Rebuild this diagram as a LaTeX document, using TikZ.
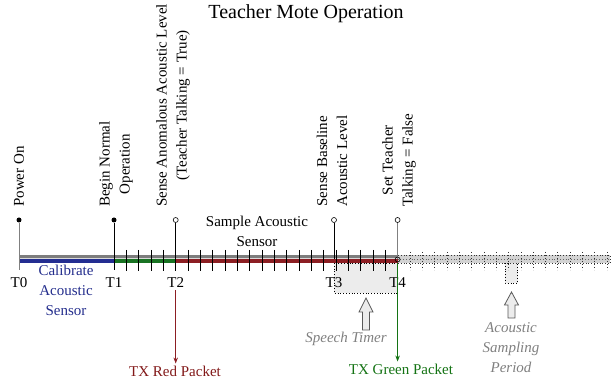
\documentclass[tikz,border=0pt]{standalone}
\usepackage{fontspec}
\setmainfont{Liberation Serif}
\usetikzlibrary{arrows.meta,calc}
\definecolor{barblue}{RGB}{35,45,145}
\definecolor{bargreen}{RGB}{25,115,35}
\definecolor{barred}{RGB}{140,30,35}
\definecolor{txtblue}{RGB}{35,45,140}
\definecolor{txtred}{RGB}{130,25,25}
\definecolor{txtgreen}{RGB}{20,115,20}
\definecolor{bargray}{RGB}{125,125,125}
\tikzset{
  lbl/.style={font=\fontsize{15}{20}\selectfont, inner sep=2pt},
  vlbl/.style={lbl, rotate=90, anchor=west, align=center},
  tlbl/.style={lbl},
  stem/.style={line width=0.9pt},
  tickmark/.style={line width=0.8pt, black},
  dottick/.style={line width=0.8pt, black!80, dash pattern=on 0.8pt off 2.2pt},
  filldot/.style={fill=black, circle, inner sep=0pt, minimum size=5pt},
  opendot/.style={draw=black, fill=white, circle, inner sep=0pt, minimum size=5pt, line width=0.6pt},
  timerbox/.style={fill=gray!15, draw=black, dash pattern=on 0.8pt off 2pt, line width=0.7pt},
  blockarrow/.style={fill=gray!15, draw=black!65, line width=0.8pt},
  note/.style={lbl, font=\fontsize{15}{20}\selectfont\itshape, text=black!50, align=center},
  pkt/.style={line width=0.8pt, -{Stealth[length=6pt,width=4.5pt]}}
}
\begin{document}
\begin{tikzpicture}[x=1pt,y=-1pt]
\useasboundingbox (0,0) rectangle (611,379);
\def\dx{12.33}
% event coordinates on the bar
\coordinate (T0) at (19,259.5);
\coordinate (T1) at (114,259.5);
\coordinate (T2) at (175.7,259.5);
\coordinate (T3) at (334,259.5);
\coordinate (T4) at (397.6,259.5);
\coordinate (End) at (610,259.5);

% title
\node[font=\fontsize{20}{24}\selectfont] (title) at (306,14) {Teacher Mote Operation};

% speech timer box
\draw[timerbox] (334,263) rectangle (397.6,293);
% acoustic sampling period box
\draw[timerbox] (505.3,263) rectangle (517.6,283);

% future (dotted) bar
\draw[fill=gray!35, draw=black!80, dash pattern=on 0.8pt off 2pt, line width=0.6pt] (397.6,255.5) rectangle (610,263.5);
\draw[dash pattern=on 0.8pt off 2pt, line width=0.5pt, black!60] (397.6,259.5) -- (End);
\foreach \k in {1,...,17} \draw[dottick] (397.6+\k*\dx,252) -- (397.6+\k*\dx,270);

% main bar
\draw[line width=8pt, bargray] (T0) -- (T4);
\draw[line width=1pt, white!70!gray] ([yshift=1.3pt]T0) -- ([yshift=1.3pt]T4);
\draw[line width=3.5pt, barblue] ([yshift=-1.5pt]T0) -- ([yshift=-1.5pt]T1);
\draw[line width=3.5pt, bargreen] ([yshift=-1.5pt]T1) -- ([yshift=-1.5pt]T2);
\draw[line width=3.5pt, barred] ([yshift=-1.5pt]T2) -- ([yshift=-1.5pt]T4);

% ticks
\foreach \k in {1,...,22} \draw[tickmark] (114+\k*\dx,250) -- (114+\k*\dx,271);

% stems and markers
\node[filldot] (m0) at (19,220) {};
\node[filldot] (m1) at (114,220) {};
\node[opendot] (m2) at (175.7,220) {};
\node[opendot] (m3) at (334,220) {};
\node[opendot] (m4) at (397.6,220) {};
\coordinate (b0) at (19,270);
\coordinate (b1) at (114,270);
\coordinate (b2) at (175.7,270);
\draw[stem, gray] (m0) -- (b0);
\draw[stem] (m1) -- (b1);
\draw[stem] (m2) -- (b2);
\draw[stem] (m3) -- (T3);
\draw[stem, gray] (m4) -- (T4);
\node[draw=black, circle, inner sep=0pt, minimum size=5pt, line width=0.6pt] (c4) at (T4) {};

% vertical event labels
\node[vlbl] (l0) at (19,209) {Power On};
\node[vlbl] (l1) at (116,209) {Begin Normal\\Operation};
\node[vlbl] (l2) at (173,209) {Sense Anomalous Acoustic Level\\(Teacher Talking = True)};
\node[vlbl] (l3) at (332,209) {Sense Baseline\\Acoustic Level};
\node[vlbl] (l4) at (399,209) {Set Teacher\\Talking = False};

% time labels
\node[tlbl] (t0) at (19,283) {T0};
\node[tlbl] (t1) at (114,283) {T1};
\node[tlbl] (t2) at (175.7,283) {T2};
\node[tlbl] (t3) at (334,283) {T3};
\node[tlbl] (t4) at (397.6,283) {T4};

% phase labels
\node[lbl, align=center, text=txtblue] (cal) at (66,290) {Calibrate\\Acoustic\\Sensor};
\node[lbl, align=center] (samp) at (257,231) {Sample Acoustic\\Sensor};

% packets
\node[lbl, text=txtred] (red) at (175,371) {TX Red Packet};
\node[lbl, text=txtgreen] (green) at (401,369) {TX Green Packet};
\coordinate (r0) at (175.7,290);
\coordinate (g0) at (397.6,263);
\draw[pkt, barred] (r0) -- (red.north -| r0);
\draw[pkt, txtgreen] (g0) -- (green.north -| g0);

% block arrows
\draw[blockarrow] (366,298) -- (373,312) -- (369.5,312) -- (369.5,330) -- (362.5,330) -- (362.5,312) -- (359,312) -- cycle;
\draw[blockarrow] (511.5,292) -- (518.5,305) -- (515,305) -- (515,318) -- (508,318) -- (508,305) -- (504.5,305) -- cycle;

% notes
\node[note] (st) at (346,339) {Speech Timer};
\node[note] (asp) at (511,348) {Acoustic\\Sampling\\Period};
\end{tikzpicture}
\end{document}
